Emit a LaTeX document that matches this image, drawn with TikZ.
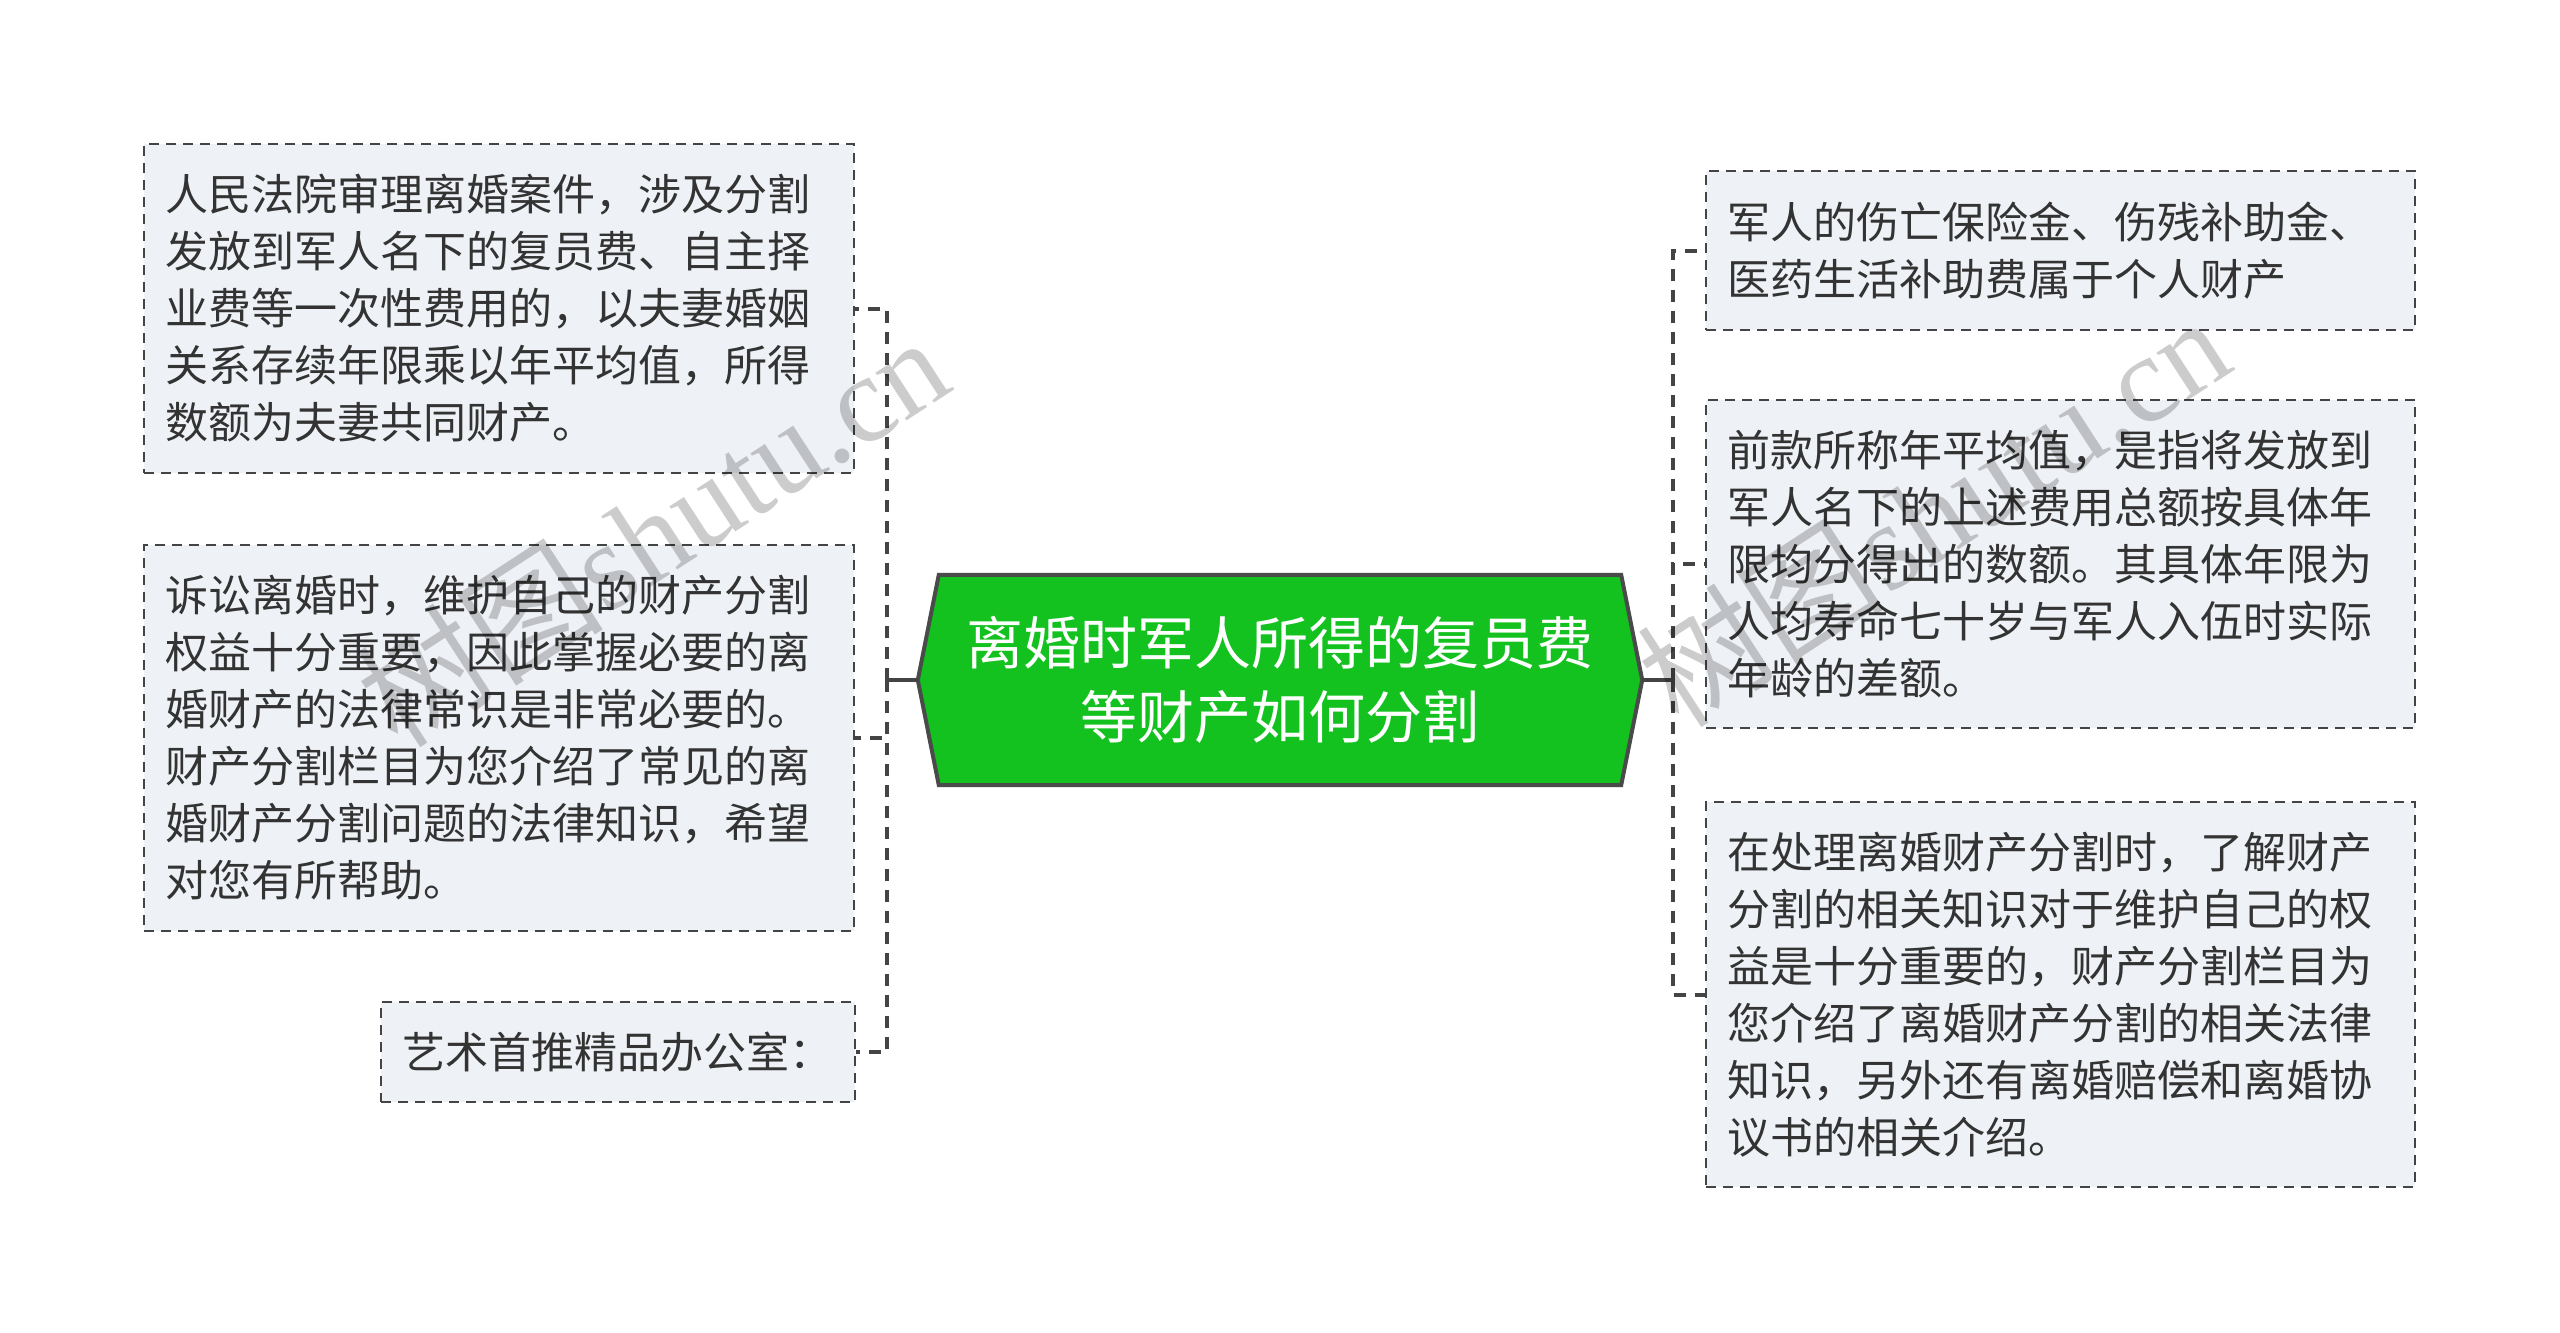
\documentclass[tikz,border=0pt]{standalone}
\usepackage{fontspec}
\setmainfont{Liberation Serif}
\newfontfamily\cjk{Noto Sans CJK SC}
\usetikzlibrary{calc}
\pgfdeclarelayer{background}
\pgfsetlayers{background,main}
\definecolor{boxfill}{RGB}{238,241,245}
\definecolor{lineg}{RGB}{68,68,68}
\definecolor{txt}{RGB}{51,51,51}
\definecolor{rootg}{RGB}{19,193,31}
\definecolor{rootb}{RGB}{74,74,74}
\tikzset{
  leaf/.style={draw=lineg, line width=2.5pt, dash pattern=on 10pt off 7pt,
    fill=boxfill, text=txt, font=\cjk\fontsize{43}{57}\selectfont,
    align=left, inner xsep=21pt, inner ysep=0pt, text width=#1},
  conn/.style={draw=lineg, line width=4pt, dash pattern=on 12pt off 9pt},
  rootnode/.style={font=\cjk\fontsize{57}{74}\selectfont, text=white,
    align=center, minimum width=724pt, minimum height=210pt, inner sep=0pt},
  hexa/.style={fill=rootg, draw=rootb, line width=4pt, line join=miter},
  wmark/.style={rotate=33, text=black, text opacity=0.2,
    font=\fontsize{124}{124}\selectfont}
}
\begin{document}
\begin{tikzpicture}[x=1pt, y=-1pt]
\useasboundingbox (0,0) rectangle (2560,1333);

% root
\node[rootnode] (root) at (1280,680) {离婚时军人所得的复员费\\等财产如何分割};
\begin{pgfonlayer}{background}
\fill[white] (0,0) rectangle (2560,1333);
\draw[hexa] (root.west) -- ([xshift=21pt]root.north west) -- ([xshift=-21pt]root.north east)
  -- (root.east) -- ([xshift=-21pt]root.south east) -- ([xshift=21pt]root.south west) -- cycle;
\end{pgfonlayer}

% left leaves
\node[leaf=668pt, minimum height=329pt] (l1) at (499,308.5)
  {人民法院审理离婚案件，涉及分割\\发放到军人名下的复员费、自主择\\业费等一次性费用的，以夫妻婚姻\\关系存续年限乘以年平均值，所得\\数额为夫妻共同财产。};
\node[leaf=668pt, minimum height=386pt] (l2) at (499,738)
  {诉讼离婚时，维护自己的财产分割\\权益十分重要，因此掌握必要的离\\婚财产的法律常识是非常必要的。\\财产分割栏目为您介绍了常见的离\\婚财产分割问题的法律知识，希望\\对您有所帮助。};
\node[leaf=432pt, minimum height=100pt] (l3) at (618,1052)
  {艺术首推精品办公室：};

% right leaves
\node[leaf=667pt, minimum height=159pt] (r1) at (2060.5,250.5)
  {军人的伤亡保险金、伤残补助金、\\医药生活补助费属于个人财产};
\node[leaf=667pt, minimum height=328pt] (r2) at (2060.5,564)
  {前款所称年平均值，是指将发放到\\军人名下的上述费用总额按具体年\\限均分得出的数额。其具体年限为\\人均寿命七十岁与军人入伍时实际\\年龄的差额。};
\node[leaf=667pt, minimum height=385pt] (r3) at (2060.5,994.5)
  {在处理离婚财产分割时，了解财产\\分割的相关知识对于维护自己的权\\益是十分重要的，财产分割栏目为\\您介绍了离婚财产分割的相关法律\\知识，另外还有离婚赔偿和离婚协\\议书的相关介绍。};

% connectors
\coordinate (jl) at ($(root.west)+(-31,0)$);
\coordinate (jr) at ($(root.east)+(31,0)$);
\draw[conn, solid] (root.west) -- (jl);
\draw[conn, solid] (root.east) -- (jr);
\draw[conn] (jl) |- (l1.east);
\draw[conn] (jl) |- (l2.east);
\draw[conn] (jl) |- (l3.east);
\draw[conn] (jr) |- (r1.west);
\draw[conn] (jr) |- (r2.west);
\draw[conn] (jr) |- (r3.west);

% watermarks
\node[wmark] (wm1) at (652,530) {{\cjk 树图}shutu.cn};
\node[wmark] (wm2) at (1933,510) {{\cjk 树图}shutu.cn};
\end{tikzpicture}
\end{document}
